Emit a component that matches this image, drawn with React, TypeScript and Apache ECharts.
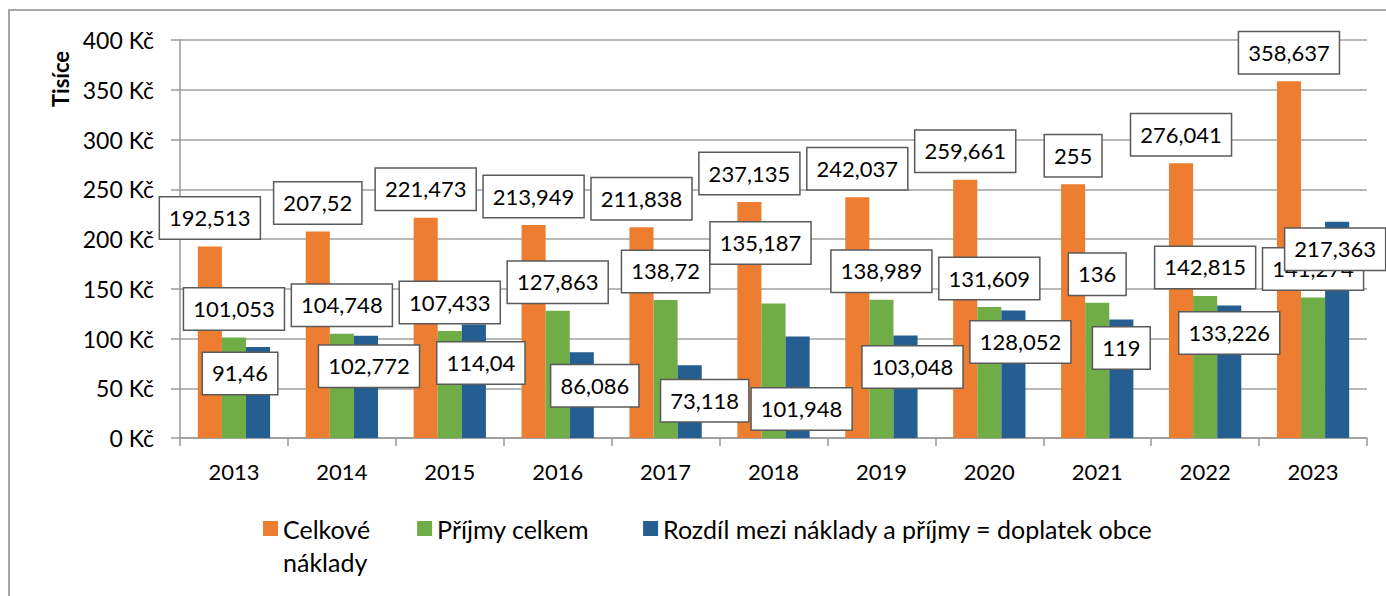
import React, { useEffect, useRef } from "react";
import * as echarts from "echarts";

const years = ["2013", "2014", "2015", "2016", "2017", "2018", "2019", "2020", "2021", "2022", "2023"];
const totalCosts = [192.513, 207.52, 221.473, 213.949, 211.838, 237.135, 242.037, 259.661, 255, 276.041, 358.637];
const totalIncome = [101.053, 104.748, 107.433, 127.863, 138.72, 135.187, 138.989, 131.609, 136, 142.815, 141.274];
const municipalSubsidy = [91.46, 102.772, 114.04, 86.086, 73.118, 101.948, 103.048, 128.052, 119, 133.226, 217.363];
const yTicks = [0, 50, 100, 150, 200, 250, 300, 350, 400];

const seriesNames = ["Celkové náklady", "Příjmy celkem", "Rozdíl mezi náklady a příjmy = doplatek obce"];

// label nudges (pixels) – styling only
const costNudge = years.map(() => [0, 0]);
const incomeNudge = [[0, 0], [0, 0], [0, 0], [0, 0], [0, 0], [-13, -32], [0, 0], [0, 0], [0, 0], [0, 0], [0, 0]];
const subsidyNudge = [[-18, 55], [3, 59], [7, 67], [13, 62], [15, 64], [4, 101], [7, 60], [7, 60], [0, 57], [0, 56], [-2, 56]];

const FONT = "Lato";
const fmt = (v: number) => String(v).replace(".", ",");

const labelStyle = {
  show: true,
  position: "top",
  distance: 8,
  backgroundColor: "#ffffff",
  borderColor: "#5a5a5a",
  borderWidth: 1.5,
  padding: [8, 9, 9, 9],
  lineHeight: 24,
  fontSize: 22,
  fontFamily: FONT,
  color: "#000",
  formatter: (p: any) => fmt(p.value),
};

export default function App() {
  const ref = useRef<HTMLDivElement>(null);
  useEffect(() => {
    const chart = echarts.init(ref.current!, null, { renderer: "svg" });
    const mk = (vals: number[], nudges: number[][]) =>
      vals.map((v, i) => ({ value: v, label: { offset: nudges[i] } }));
    chart.setOption({
      animation: false,
      textStyle: { fontFamily: FONT },
      grid: { left: 180, right: 19, top: 40, bottom: 158, containLabel: false },
      graphic: [
        {
          type: "rect",
          shape: { x: 9, y: 10, width: 1400, height: 600 },
          style: { fill: "none", stroke: "#8a8a8a", lineWidth: 1.5 },
          silent: true,
        },
        {
          type: "text",
          x: 60,
          y: 79,
          rotation: Math.PI / 2,
          style: { text: "Tisíce", font: `bold 22px ${FONT}`, fill: "#000", align: "center", verticalAlign: "middle" },
        },
      ],
      legend: {
        left: 263,
        top: 479,
        padding: 0,
        itemWidth: 15,
        itemHeight: 15,
        itemGap: 47,
        icon: "rect",
        textStyle: { fontSize: 25, fontFamily: FONT, color: "#000", lineHeight: 33 },
        formatter: (name: string) => (name === seriesNames[0] ? "\nCelkové\nnáklady" : name),
        data: [
          { name: seriesNames[0] },
          { name: seriesNames[1], textStyle: { padding: [0, 7, 0, 0] } },
          { name: seriesNames[2] },
        ],
      },
      xAxis: {
        type: "category",
        data: years,
        axisLine: { lineStyle: { color: "#999", width: 1.5 } },
        axisTick: { show: true, length: 8, lineStyle: { color: "#999", width: 1.5 } },
        axisLabel: { fontSize: 22, fontFamily: FONT, color: "#000", margin: 22 },
      },
      yAxis: {
        type: "value",
        min: yTicks[0],
        max: yTicks[yTicks.length - 1],
        interval: 50,
        axisLine: { show: true, lineStyle: { color: "#999", width: 1.5 } },
        axisTick: { show: true, length: 9, inside: false, lineStyle: { color: "#999", width: 1.5 } },
        splitLine: { lineStyle: { color: "#a0a0a0", width: 1.5 } },
        axisLabel: { fontSize: 23, fontFamily: FONT, color: "#000", margin: 26, formatter: (v: number) => `${v} Kč` },
      },
      series: [
        {
          name: seriesNames[0],
          type: "bar",
          data: mk(totalCosts, costNudge),
          itemStyle: { color: "#ED7D31" },
          barGap: "0%",
          barCategoryGap: "33%",
          label: labelStyle,
        },
        {
          name: seriesNames[1],
          type: "bar",
          data: mk(totalIncome, incomeNudge),
          itemStyle: { color: "#70AD47" },
          barGap: "0%",
          barCategoryGap: "33%",
          label: labelStyle,
        },
        {
          name: seriesNames[2],
          type: "bar",
          data: mk(municipalSubsidy, subsidyNudge),
          itemStyle: { color: "#255E91" },
          barGap: "0%",
          barCategoryGap: "33%",
          label: labelStyle,
        },
      ],
    });
    return () => chart.dispose();
  }, []);
  return <div ref={ref} style={{ position: "absolute", left: 0, top: 0, width: 1386, height: 596 }} />;
}
